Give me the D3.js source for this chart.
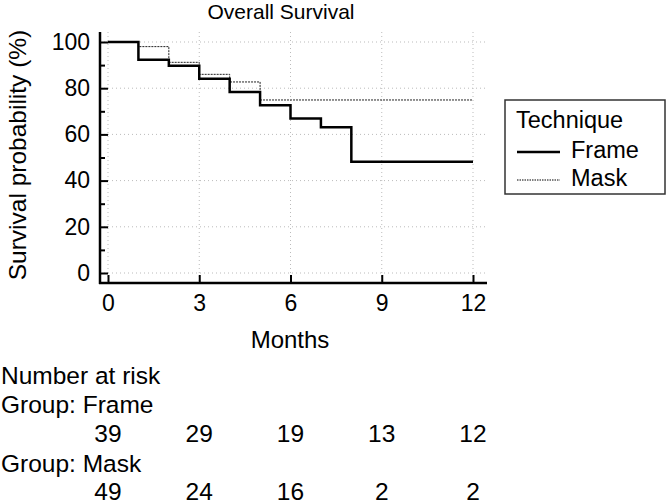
<!DOCTYPE html>
<html>
<head>
<meta charset="utf-8">
<script src="https://cdn.jsdelivr.net/npm/d3@7"></script>
<style>
  body { margin: 0; background: #fff; }
  text { font-family: "Liberation Sans", Arial, sans-serif; fill: #000; }
</style>
</head>
<body>
<div id="chart"></div>
<script>
var width = 666,
    height = 504;

// Kaplan-Meier steps (months, survival %)
var frameTimes = [0, 1, 2, 3, 4, 5, 6, 7, 8, 12];
var frameSurv  = [100, 92.3, 89.7, 84.1, 78.4, 72.6, 66.9, 63.1, 48.2, 48.2];
var maskTimes  = [0, 1, 2, 3, 4, 5, 12];
var maskSurv   = [100, 98.0, 91.2, 86.0, 82.7, 74.9, 74.9];

var xTicks = [0, 3, 6, 9, 12];
var yTicks = [0, 20, 40, 60, 80, 100];
var yMinor = [10, 30, 50, 70, 90];

var groups = ["Frame", "Mask"];
var riskFrame = [39, 29, 19, 13, 12];
var riskMask  = [49, 24, 16, 2, 2];

var x = d3.scaleLinear().domain([0, 12]).range([108, 473]);
var y = d3.scaleLinear().domain([0, 100]).range([273, 42]);

var svg = d3.select("#chart").append("svg")
    .attr("width", width)
    .attr("height", height);

svg.append("rect").attr("width", width).attr("height", height).attr("fill", "#fff");

// title
svg.append("text")
    .attr("x", 281)
    .attr("y", 19)
    .attr("text-anchor", "middle")
    .style("font-size", "21px")
    .text("Overall Survival");

// gridlines
var grid = svg.append("g")
    .attr("stroke", "#bbb")
    .attr("stroke-width", 1)
    .attr("stroke-dasharray", "1,3");
grid.selectAll(".vg")
    .data(xTicks)
  .enter().append("line")
    .attr("x1", function(d) { return x(d); })
    .attr("x2", function(d) { return x(d); })
    .attr("y1", 32)
    .attr("y2", 283);
grid.selectAll(".hg")
    .data(yTicks)
  .enter().append("line")
    .attr("x1", 100)
    .attr("x2", 487)
    .attr("y1", function(d) { return y(d); })
    .attr("y2", function(d) { return y(d); });

// axes
svg.append("g")
    .attr("transform", "translate(100,0)")
    .call(d3.axisLeft(y).tickValues(yTicks).tickSize(-8).tickPadding(10));
svg.append("g")
    .attr("transform", "translate(100,0)")
    .call(d3.axisLeft(y).tickValues(yMinor).tickSize(-5).tickFormat(""));
svg.append("g")
    .attr("transform", "translate(0,283)")
    .call(d3.axisBottom(x).tickValues(xTicks).tickSize(-8).tickPadding(12));

svg.selectAll(".domain").remove();
svg.selectAll(".tick line").attr("stroke", "#000").attr("stroke-width", 2);
svg.selectAll(".tick text")
    .style("font-size", "23px")
    .style("font-family", "'Liberation Sans', Arial, sans-serif");

svg.append("line")
    .attr("x1", 100).attr("x2", 100)
    .attr("y1", 32).attr("y2", 284)
    .attr("stroke", "#000").attr("stroke-width", 2.5);
svg.append("line")
    .attr("x1", 99).attr("x2", 487)
    .attr("y1", 283).attr("y2", 283)
    .attr("stroke", "#000").attr("stroke-width", 2.5);

// axis titles
svg.append("text")
    .attr("transform", "translate(26,155)rotate(-90)")
    .attr("text-anchor", "middle")
    .style("font-size", "24.5px")
    .text("Survival probability (%)");
svg.append("text")
    .attr("x", 290)
    .attr("y", 348)
    .attr("text-anchor", "middle")
    .style("font-size", "24px")
    .text("Months");

// curves
var step = d3.line()
    .x(function(d) { return x(d[0]); })
    .y(function(d) { return y(d[1]); })
    .curve(d3.curveStepAfter);

svg.append("path")
    .datum(d3.zip(maskTimes, maskSurv))
    .attr("d", step)
    .attr("fill", "none")
    .attr("stroke", "#222")
    .attr("stroke-width", 1)
    .attr("stroke-dasharray", "2,1");

svg.append("path")
    .datum(d3.zip(frameTimes, frameSurv))
    .attr("d", step)
    .attr("fill", "none")
    .attr("stroke", "#000")
    .attr("stroke-width", 2.5);

// legend
var legend = svg.append("g");
legend.append("rect")
    .attr("x", 505).attr("y", 100)
    .attr("width", 160).attr("height", 94)
    .attr("fill", "#fff")
    .attr("stroke", "#333")
    .attr("stroke-width", 1.5);
legend.append("text")
    .attr("x", 516).attr("y", 128)
    .style("font-size", "23.5px")
    .text("Technique");
legend.selectAll(".lg")
    .data(groups)
  .enter().append("line")
    .attr("x1", 517).attr("x2", 560)
    .attr("y1", function(d, i) { return 152 + i * 28; })
    .attr("y2", function(d, i) { return 152 + i * 28; })
    .attr("stroke", "#000")
    .attr("stroke-width", function(d, i) { return i == 0 ? 2.5 : 1; })
    .attr("stroke-dasharray", function(d, i) { return i == 0 ? null : "1.5,1"; });
legend.selectAll(".lt")
    .data(groups)
  .enter().append("text")
    .attr("x", 571)
    .attr("y", function(d, i) { return 158 + i * 28; })
    .style("font-size", "23.5px")
    .text(function(d) { return d; });

// number at risk table
var risk = svg.append("g").style("font-size", "24.5px");
risk.append("text").attr("x", 1).attr("y", 384).text("Number at risk");
risk.append("text").attr("x", 1).attr("y", 413).text("Group: " + groups[0]);
risk.append("text").attr("x", 1).attr("y", 472).text("Group: " + groups[1]);
risk.selectAll(".rf")
    .data(riskFrame)
  .enter().append("text")
    .attr("x", function(d, i) { return x(xTicks[i]); })
    .attr("y", 442)
    .attr("text-anchor", "middle")
    .text(function(d) { return d; });
risk.selectAll(".rm")
    .data(riskMask)
  .enter().append("text")
    .attr("x", function(d, i) { return x(xTicks[i]); })
    .attr("y", 500)
    .attr("text-anchor", "middle")
    .text(function(d) { return d; });
</script>
</body>
</html>
